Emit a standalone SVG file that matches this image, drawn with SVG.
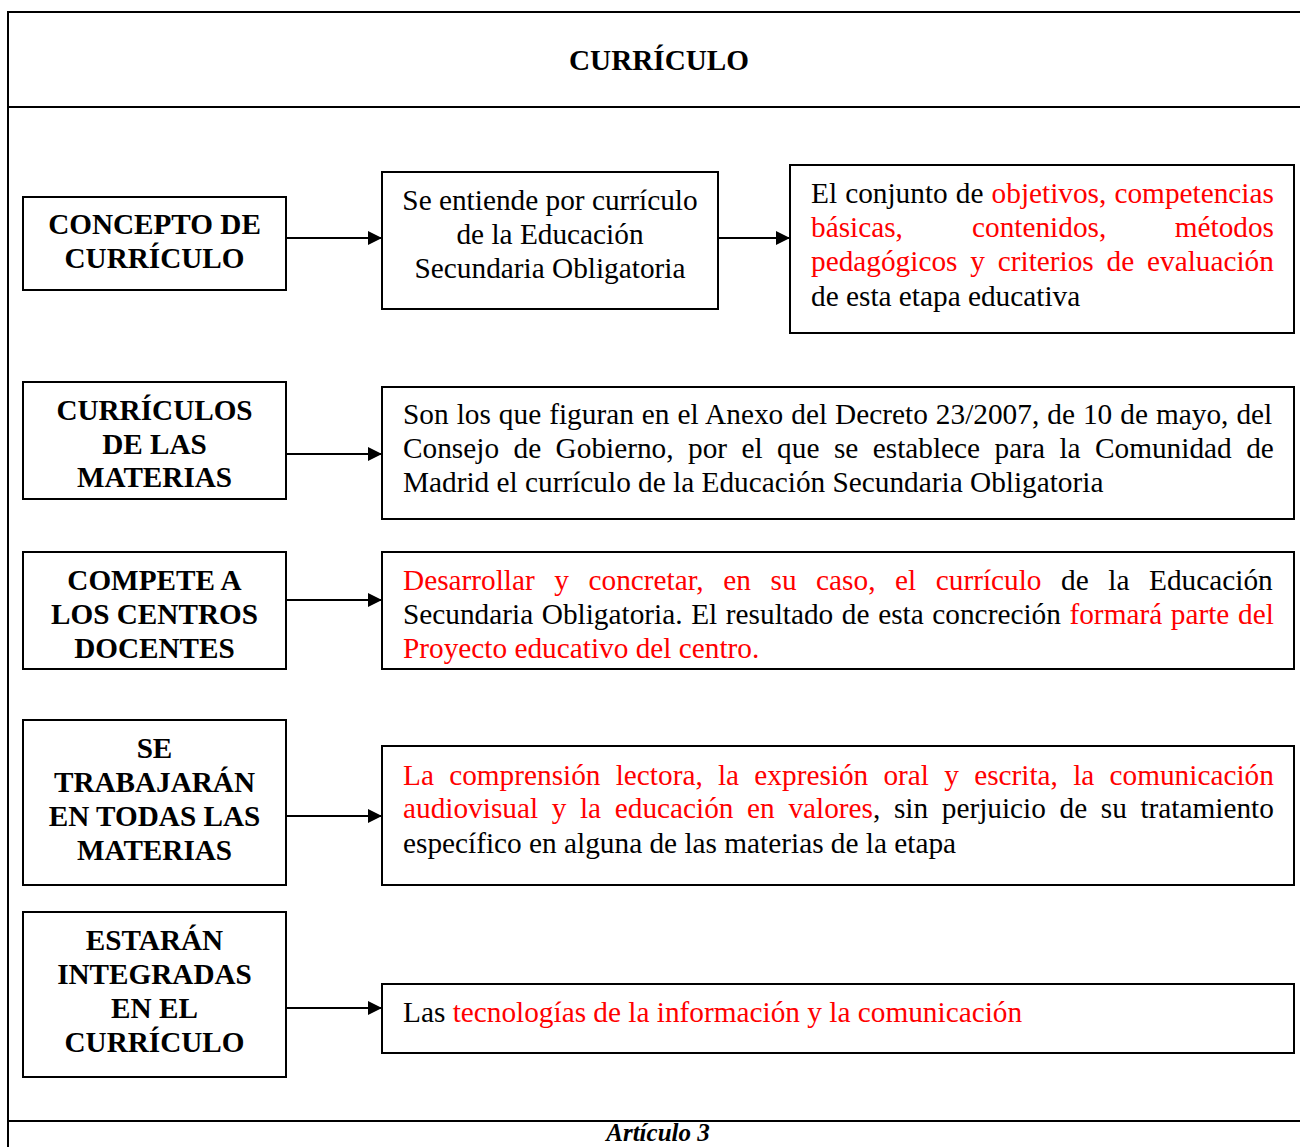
<svg xmlns="http://www.w3.org/2000/svg" width="1300" height="1147" viewBox="0 0 1300 1147">
<style>
.frame{stroke:#000;stroke-width:2;fill:none}
.box{fill:#fff;stroke:#000;stroke-width:2}
.t{font-family:"Liberation Serif","Times New Roman",serif;font-size:29.3px;fill:#000}
.b{font-family:"Liberation Serif","Times New Roman",serif;font-size:29.2px;font-weight:bold;fill:#000;text-anchor:middle}
.r{fill:#ff0000}
.conn line{stroke:#000;stroke-width:2}
</style>
<defs>
<marker id="ah" markerUnits="userSpaceOnUse" markerWidth="14" markerHeight="14" viewBox="0 0 14 14" refX="14" refY="7" orient="auto">
<path d="M0,0 L14,7 L0,14 Z" fill="#000"/>
</marker>
</defs>
<rect width="1300" height="1147" fill="#fff"/>
<g id="frame">
<line class="frame" x1="8" y1="12" x2="1300" y2="12"/>
<line class="frame" x1="8" y1="11" x2="8" y2="1147"/>
<line class="frame" x1="8" y1="107" x2="1300" y2="107"/>
<line class="frame" x1="8" y1="1121" x2="1300" y2="1121"/>
<text class="b" x="659" y="70" font-size="28.9">CURRÍCULO</text>
<text x="658" y="1141" text-anchor="middle" style="font-family:'Liberation Serif','Times New Roman',serif;font-size:25px;font-weight:bold;font-style:italic">Artículo 3</text>
</g>
<g class="conn" id="connectors">
<line x1="286" y1="238" x2="382" y2="238" marker-end="url(#ah)"/>
<line x1="718" y1="238" x2="790" y2="238" marker-end="url(#ah)"/>
<line x1="286" y1="454" x2="382" y2="454" marker-end="url(#ah)"/>
<line x1="286" y1="600" x2="382" y2="600" marker-end="url(#ah)"/>
<line x1="286" y1="816" x2="382" y2="816" marker-end="url(#ah)"/>
<line x1="286" y1="1008" x2="382" y2="1008" marker-end="url(#ah)"/>
</g>
<g id="n-concepto">
<rect class="box" x="23" y="197" width="263" height="93"/>
<text class="b" x="154.5" y="234">CONCEPTO DE</text>
<text class="b" x="154.5" y="268">CURRÍCULO</text>
</g>
<g id="n-curriculos">
<rect class="box" x="23" y="382" width="263" height="117"/>
<text class="b" x="154.5" y="420">CURRÍCULOS</text>
<text class="b" x="154.5" y="454">DE LAS</text>
<text class="b" x="154.5" y="487">MATERIAS</text>
</g>
<g id="n-compete">
<rect class="box" x="23" y="552" width="263" height="117"/>
<text class="b" x="154.5" y="590">COMPETE A</text>
<text class="b" x="154.5" y="624">LOS CENTROS</text>
<text class="b" x="154.5" y="658">DOCENTES</text>
</g>
<g id="n-trabajaran">
<rect class="box" x="23" y="720" width="263" height="165"/>
<text class="b" x="154.5" y="758">SE</text>
<text class="b" x="154.5" y="792">TRABAJARÁN</text>
<text class="b" x="154.5" y="826">EN TODAS LAS</text>
<text class="b" x="154.5" y="860">MATERIAS</text>
</g>
<g id="n-estaran">
<rect class="box" x="23" y="912" width="263" height="165"/>
<text class="b" x="154.5" y="950">ESTARÁN</text>
<text class="b" x="154.5" y="984">INTEGRADAS</text>
<text class="b" x="154.5" y="1018">EN EL</text>
<text class="b" x="154.5" y="1052">CURRÍCULO</text>
</g>
<g id="n-entiende">
<rect class="box" x="382" y="172" width="336" height="137"/>
<text class="t" x="550" y="210" text-anchor="middle">Se entiende por currículo</text>
<text class="t" x="550" y="244" text-anchor="middle">de la Educación</text>
<text class="t" x="550" y="278" text-anchor="middle">Secundaria Obligatoria</text>
</g>
<g id="n-conjunto">
<rect class="box" x="790" y="165" width="504" height="168"/>
<text class="t" x="811" y="203" word-spacing="0.8">El conjunto de <tspan class="r">objetivos, competencias</tspan></text>
<text class="t r" x="811" y="237">básicas,</text>
<text class="t r" x="972" y="237">contenidos,</text>
<text class="t r" x="1274" y="237" text-anchor="end">métodos</text>
<text class="t r" x="811" y="271" word-spacing="5.5">pedagógicos y criterios de evaluación</text>
<text class="t" x="811" y="306">de esta etapa educativa</text>
</g>
<g id="n-anexo">
<rect class="box" x="382" y="387" width="912" height="132"/>
<text class="t" x="403" y="424" word-spacing="0.72">Son los que figuran en el Anexo del Decreto 23/2007, de 10 de mayo, del</text>
<text class="t" x="403" y="458" word-spacing="7.13">Consejo de Gobierno, por el que se establece para la Comunidad de</text>
<text class="t" x="403" y="492">Madrid el currículo de la Educación Secundaria Obligatoria</text>
</g>
<g id="n-desarrollar">
<rect class="box" x="382" y="552" width="912" height="117"/>
<text class="t" x="403" y="590" word-spacing="12.25"><tspan class="r">Desarrollar y concretar, en su caso, el currículo</tspan> de la Educación</text>
<text class="t" x="403" y="624" word-spacing="1.31">Secundaria Obligatoria. El resultado de esta concreción <tspan class="r">formará parte del</tspan></text>
<text class="t r" x="403" y="658">Proyecto educativo del centro.</text>
</g>
<g id="n-comprension">
<rect class="box" x="382" y="746" width="912" height="139"/>
<text class="t r" x="403" y="785" word-spacing="7.91">La comprensión lectora, la expresión oral y escrita, la comunicación</text>
<text class="t" x="403" y="818" word-spacing="6.3"><tspan class="r">audiovisual y la educación en valores</tspan>, sin perjuicio de su tratamiento</text>
<text class="t" x="403" y="853">específico en alguna de las materias de la etapa</text>
</g>
<g id="n-tic">
<rect class="box" x="382" y="984" width="912" height="69"/>
<text class="t" x="403" y="1022">Las <tspan class="r">tecnologías de la información y la comunicación</tspan></text>
</g>
</svg>
